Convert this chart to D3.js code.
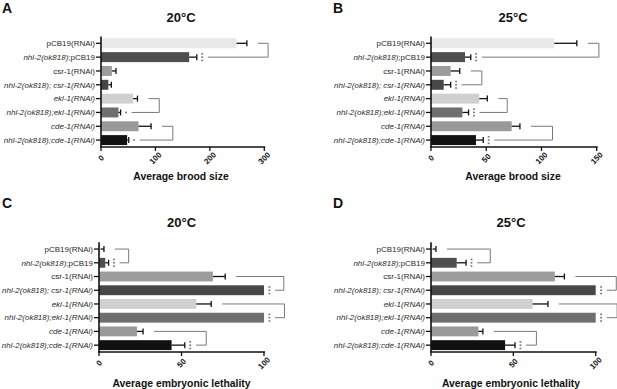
<!DOCTYPE html>
<html>
<head>
<meta charset="utf-8">
<script src="https://cdn.jsdelivr.net/npm/d3@7/dist/d3.min.js"></script>
<style>
  body { margin: 0; background: #fff; }
  svg { display: block; font-family: "Liberation Sans", Arial, Helvetica, sans-serif; }
  .lbl { font-size: 8px; fill: #2a2a2a; }
  .tick-lbl { font-size: 8px; font-weight: bold; fill: #111; }
  .ax-title { font-size: 10.4px; font-weight: bold; fill: #111; }
  .p-title { font-size: 13px; font-weight: bold; fill: #111; }
  .p-letter { font-size: 14px; font-weight: bold; fill: #111; }
</style>
</head>
<body>
<svg id="chart" width="617" height="389"></svg>
<script>
// row labels: [text, italic] segments
const categories = [
  [["pCB19(RNAi)", false]],
  [["nhl-2(ok818)", true], [";pCB19", false]],
  [["csr-1(RNAi)", false]],
  [["nhl-2(ok818); csr-1(RNAi)", true]],
  [["ekl-1(RNAi)", true]],
  [["nhl-2(ok818);ekl-1(RNAi)", true]],
  [["cde-1(RNAi)", true]],
  [["nhl-2(ok818);cde-1(RNAi)", true]]
];
const barColors = ["#e8e8e8", "#4f4f4f", "#9c9c9c", "#474747", "#d0d0d0", "#6f6f6f", "#9a9a9a", "#111111"];

// brood size, 20°C
const broodA = [249, 162, 20, 13.5, 59, 32, 69, 48];
const broodAErr = [268, 176, 27.5, 19, 67, 36, 92, 51];
const bracketsA = [{ rows: [0, 1], at: 307, stars: 3 }, { rows: [4, 5], at: 107, stars: 1 }, { rows: [6, 7], at: 132, stars: 1 }];
const ticksA = [0, 100, 200, 300];

// brood size, 25°C
const broodB = [111.6, 30.8, 17.8, 11.5, 43.7, 28.4, 73, 40.7];
const broodBErr = [132, 36, 26, 17.8, 51, 34, 80.5, 47.3];
const bracketsB = [{ rows: [0, 1], at: 152, stars: 3 }, { rows: [2, 3], at: 46, stars: 3 }, { rows: [4, 5], at: 69, stars: 3 }, { rows: [6, 7], at: 110, stars: 3 }];
const ticksB = [0, 50, 100, 150];

// embryonic lethality, 20°C
const lethC = [1, 3.8, 69, 100, 59, 100, 23, 44];
const lethCErr = [3, 5.8, 76.5, 100, 68, 100, 26.7, 52];
const bracketsC = [{ rows: [0, 1], at: 18, stars: 3 }, { rows: [2, 3], at: 112, stars: 3 }, { rows: [4, 5], at: 112.4, stars: 3 }, { rows: [6, 7], at: 65, stars: 3 }];
const ticksC = [0, 50, 100];

// embryonic lethality, 25°C
const lethD = [1, 15.6, 75.2, 100, 61.7, 100, 28.8, 45];
const lethDErr = [3, 21.3, 81, 100, 71, 100, 31.5, 51];
const bracketsD = [{ rows: [0, 1], at: 36, stars: 3 }, { rows: [2, 3], at: 112.5, stars: 3 }, { rows: [4, 5], at: 113, stars: 3 }, { rows: [6, 7], at: 64, stars: 3 }];
const ticksD = [0, 50, 100];

const svg = d3.select("#chart");

function panel(o) {
  const g = svg.append("g");
  const x = d3.scaleLinear().domain([0, o.max]).range([o.x0, o.x1]);
  const y = d3.scaleBand().domain(d3.range(categories.length)).range([o.y0, o.y1])
    .paddingInner(0.28).paddingOuter(0.14);
  const mid = i => y(i) + y.bandwidth() / 2;

  g.append("text").attr("class", "p-letter").attr("x", o.lx).attr("y", o.ly).text(o.letter);
  g.append("text").attr("class", "p-title").attr("x", o.cx).attr("y", o.ty).attr("text-anchor", "middle").text(o.title);
  g.append("text").attr("class", "ax-title").attr("x", o.cx).attr("y", o.ay).attr("text-anchor", "middle").text(o.axisTitle);

  // bars
  g.append("g").selectAll("rect").data(o.values).join("rect")
    .attr("x", x(0)).attr("y", (d, i) => y(i))
    .attr("width", d => x(d) - x(0)).attr("height", y.bandwidth())
    .attr("fill", (d, i) => barColors[i]);

  // error bars
  const eb = g.append("g").attr("stroke", "#111").attr("stroke-width", 1.3);
  o.errs.forEach((e, i) => {
    if (e <= o.values[i]) return;
    eb.append("line").attr("x1", x(o.values[i])).attr("x2", x(e)).attr("y1", mid(i)).attr("y2", mid(i));
    eb.append("line").attr("x1", x(e)).attr("x2", x(e)).attr("y1", mid(i) - 3).attr("y2", mid(i) + 3);
  });

  // significance brackets
  const bk = g.append("g").attr("stroke", "#7a7a7a").attr("stroke-width", 1).attr("fill", "none");
  o.brackets.forEach(b => {
    const [r1, r2] = b.rows;
    const e1 = x(o.errs[r1]), e2 = x(o.errs[r2]), bx = x(b.at);
    bk.append("path").attr("d", `M${e1 + 11},${mid(r1)}H${bx}V${mid(r2)}H${e2 + 11}`);
    const n = b.stars;
    for (let k = 0; k < n; k++) {
      const cy = mid(r2) + (k - (n - 1) / 2) * 3.3;
      g.append("rect").attr("x", e2 + 4.5).attr("y", cy - 0.8)
        .attr("width", 1.8).attr("height", 1.6).attr("fill", "#777");
    }
  });

  // y axis
  const ya = g.append("g").attr("stroke", "#111");
  ya.append("line").attr("x1", x(0)).attr("x2", x(0)).attr("y1", o.y0).attr("y2", o.y1).attr("stroke-width", 1.6);
  categories.forEach((c, i) => {
    ya.append("line").attr("x1", x(0) - 5).attr("x2", x(0)).attr("y1", mid(i)).attr("y2", mid(i)).attr("stroke-width", 1.3);
    const t = g.append("text").attr("class", "lbl").attr("x", x(0) - 6).attr("y", mid(i))
      .attr("dy", "0.35em").attr("text-anchor", "end");
    c.forEach(([s, it]) => t.append("tspan").attr("font-style", it ? "italic" : "normal").text(s));
  });

  // x axis
  const xa = g.append("g").attr("stroke", "#111");
  xa.append("line").attr("x1", x(0) - 1).attr("x2", x(o.max) + 1).attr("y1", o.y1).attr("y2", o.y1).attr("stroke-width", 1.6);
  o.ticks.forEach(t => {
    xa.append("line").attr("x1", x(t)).attr("x2", x(t)).attr("y1", o.y1).attr("y2", o.y1 + 4).attr("stroke-width", 1.3);
    g.append("text").attr("class", "tick-lbl")
      .attr("transform", `translate(${x(t)},${o.y1 + 11}) rotate(-45)`)
      .attr("text-anchor", "middle").attr("dy", "0.35em").text(t);
  });
}

panel({ letter: "A", lx: 2, ly: 13, title: "20°C", cx: 181, ty: 21.5, ay: 179.5, axisTitle: "Average brood size",
  x0: 101, x1: 264.3, max: 300, y0: 36.4, y1: 147, values: broodA, errs: broodAErr, brackets: bracketsA, ticks: ticksA });
panel({ letter: "B", lx: 333, ly: 13, title: "25°C", cx: 513, ty: 21.5, ay: 179.5, axisTitle: "Average brood size",
  x0: 431, x1: 596.7, max: 150, y0: 36.4, y1: 147, values: broodB, errs: broodBErr, brackets: bracketsB, ticks: ticksB });
panel({ letter: "C", lx: 2, ly: 208, title: "20°C", cx: 181.5, ty: 226.5, ay: 387, axisTitle: "Average embryonic lethality",
  x0: 99, x1: 264, max: 100, y0: 242.2, y1: 352, values: lethC, errs: lethCErr, brackets: bracketsC, ticks: ticksC });
panel({ letter: "D", lx: 333, ly: 208, title: "25°C", cx: 511, ty: 226.5, ay: 387, axisTitle: "Average embryonic lethality",
  x0: 431, x1: 595.7, max: 100, y0: 242.2, y1: 352, values: lethD, errs: lethDErr, brackets: bracketsD, ticks: ticksD });
</script>
</body>
</html>
